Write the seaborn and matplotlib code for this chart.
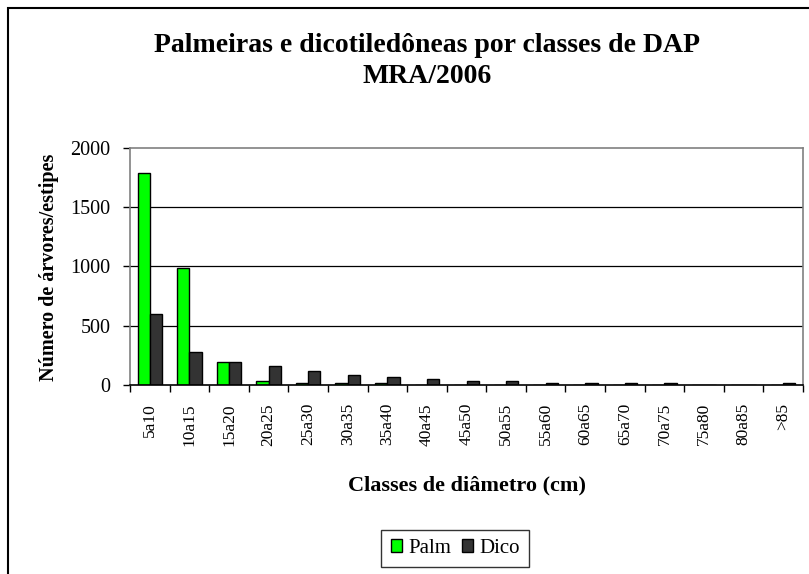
#!/usr/bin/env python3
import pandas as pd
import matplotlib.pyplot as plt
import seaborn as sns
from matplotlib.patches import Rectangle, Patch
from matplotlib.ticker import FixedLocator

classes = ["5a10", "10a15", "15a20", "20a25", "25a30", "30a35", "35a40", "40a45",
           "45a50", "50a55", "55a60", "60a65", "65a70", "70a75", "75a80", "80a85", ">85"]
palm = [1790, 984, 194, 36, 18, 15, 15, 0, 0, 0, 0, 0, 0, 0, 0, 0, 0]
dico = [599, 276, 194, 160, 115, 82, 65, 48, 36, 30, 17, 17, 17, 17, 0, 0, 17]
series = ["Palm", "Dico"]
colors = ["#00FF00", "#333333"]

df = pd.DataFrame({
    "Classe": classes * 2,
    "Valor": palm + dico,
    "Serie": ["Palm"] * len(classes) + ["Dico"] * len(classes),
})

sns.set_theme(style="white")
plt.rcParams["font.family"] = ["Liberation Serif", "DejaVu Serif"]
plt.rcParams.update({"text.color": "black", "axes.labelcolor": "black",
                     "xtick.color": "black", "ytick.color": "black"})

fig = plt.figure(figsize=(8.09, 5.74), dpi=100)
ax = fig.add_axes([0.1607, 0.3293, 0.8319, 0.4129])

sns.barplot(data=df, x="Classe", y="Valor", hue="Serie", order=classes,
            hue_order=series, palette=colors, width=0.62, edgecolor="black",
            linewidth=1, saturation=1, errorbar=None, ax=ax, legend=False)

ax.set_xlim(-0.5, len(classes) - 0.5)
ax.set_ylim(0, 2000)
ax.set_yticks([0, 500, 1000, 1500, 2000])
ax.tick_params(axis="y", which="major", direction="out", length=5, width=1,
               color="black", labelsize=14.5, pad=9, left=True)
ax.tick_params(axis="x", which="major", length=0, labelsize=12.5, pad=13, bottom=False)
ax.xaxis.set_minor_locator(FixedLocator([i - 0.5 for i in range(len(classes) + 1)]))
ax.tick_params(axis="x", which="minor", direction="out", length=5, width=1,
               color="black", bottom=True)
plt.setp(ax.get_xticklabels(), rotation=90)

for v in [500, 1000, 1500]:
    ax.axhline(v, color="black", linewidth=0.9, zorder=0)
for s in ax.spines.values():
    s.set_color("#808080")
    s.set_linewidth(1.2)
ax.spines["bottom"].set_color("black")
ax.set_xlabel("")
ax.set_ylabel("")

fig.text(0.528, 0.9094, "Palmeiras e dicotiledôneas por classes de DAP",
         ha="center", va="baseline", fontsize=20, fontweight="bold")
fig.text(0.528, 0.855, "MRA/2006", ha="center", va="baseline",
         fontsize=20, fontweight="bold")
fig.text(0.577, 0.1463, "Classes de diâmetro (cm)", ha="center", va="baseline",
         fontsize=16, fontweight="bold")
fig.text(0.0606, 0.535, "Número de árvores/estipes", ha="center", va="center",
         rotation=90, fontsize=14.5, fontweight="bold")

handles = [Patch(facecolor=c, edgecolor="black", linewidth=1) for c in colors]
leg = fig.legend(handles, series, loc="center", bbox_to_anchor=(0.563, 0.0444),
                 ncol=2, fontsize=15, frameon=True, fancybox=False,
                 handlelength=0.55, handleheight=0.55, handletextpad=0.3,
                 columnspacing=0.5, borderpad=0.45)
leg.get_frame().set_edgecolor("black")
leg.get_frame().set_linewidth(1)

fig.patches.append(Rectangle((0.0099, -0.05), 1.1, 1.036, transform=fig.transFigure,
                             fill=False, edgecolor="black", linewidth=1.5))

fig.savefig("out.png", dpi=100)
